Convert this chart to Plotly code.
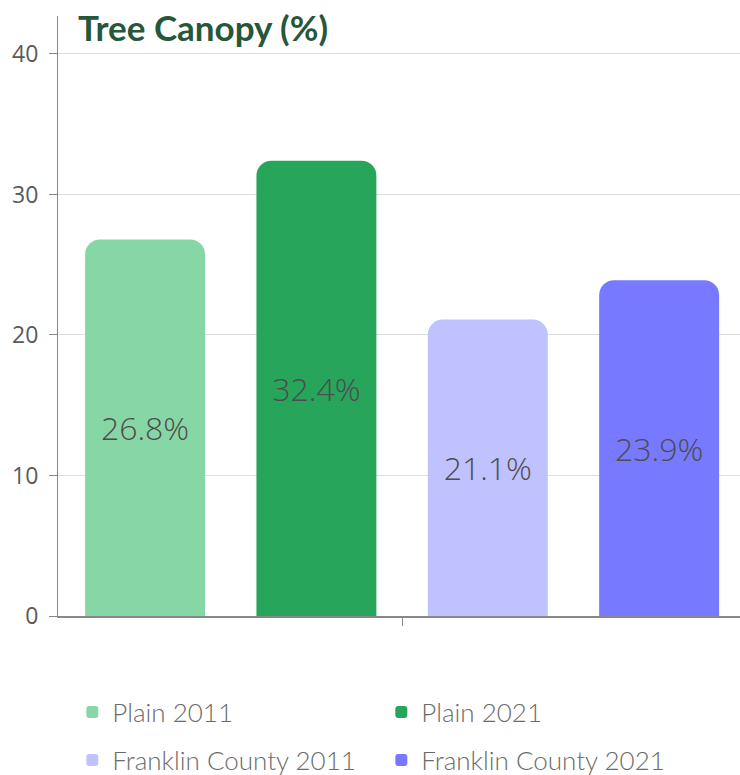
import plotly.graph_objects as go

categories = ["Tree Canopy"]
series_names = ["Plain 2011", "Plain 2021", "Franklin County 2011", "Franklin County 2021"]
series_values = [26.8, 32.4, 21.1, 23.9]
series_colors = ["#87d6a5", "#27a55b", "#c0c1ff", "#7779ff"]
legend_ids = ["legend", "legend", "legend2", "legend2"]
y_ticks = [0, 10, 20, 30, 40]

fig = go.Figure()
for name, val, col, lg in zip(series_names, series_values, series_colors, legend_ids):
    fig.add_trace(go.Bar(
        x=categories, y=[val], name=name, marker=dict(color=col, line=dict(width=0)),
        text=[f"{val}%"], textposition="inside", insidetextanchor="middle",
        textfont=dict(family="Open Sans", size=32, color="#4d4d4d", weight=300),
        legend=lg,
    ))

legend_common = dict(orientation="h", xanchor="left", yanchor="middle",
                     font=dict(family="Lato", size=26, color="#6b6b6b", weight=300),
                     entrywidth=264, bgcolor="rgba(0,0,0,0)")
fig.update_layout(
    width=740, height=775,
    margin=dict(l=58, r=0, t=16, b=159, autoexpand=False),
    plot_bgcolor="white", paper_bgcolor="white",
    barmode="group", bargap=0.004, bargroupgap=0.30, barcornerradius=15,
    title=dict(text="<b>Tree Canopy (%)</b>", xref="container", x=78/740, xanchor="left",
               yref="container", y=1 - 29/775, yanchor="middle",
               font=dict(family="Lato", size=35, color="#27573a")),
    legend=dict(x=0.021, y=-0.16, **legend_common),
    legend2=dict(x=0.021, y=-0.24, **legend_common),
    xaxis=dict(range=[-0.5, 0.491], showticklabels=False, ticks="outside", ticklen=8,
               tickcolor="#888", showline=True, linecolor="#888", linewidth=1.5,
               showgrid=False, fixedrange=True, automargin=False),
    yaxis=dict(range=[0, 42.7], tickvals=y_ticks, ticks="outside", ticklen=8,
               tickcolor="#888", showline=True, linecolor="#888", linewidth=1,
               gridcolor="#dddddd", zeroline=False, automargin=False, ticklabelstandoff=6,
               tickfont=dict(family="Open Sans", size=23, color="#5a5a5a")),
)
fig.write_html("out.html", config={"displayModeBar": False},
               post_script="document.body.style.margin='0';document.body.style.overflow='hidden';")
